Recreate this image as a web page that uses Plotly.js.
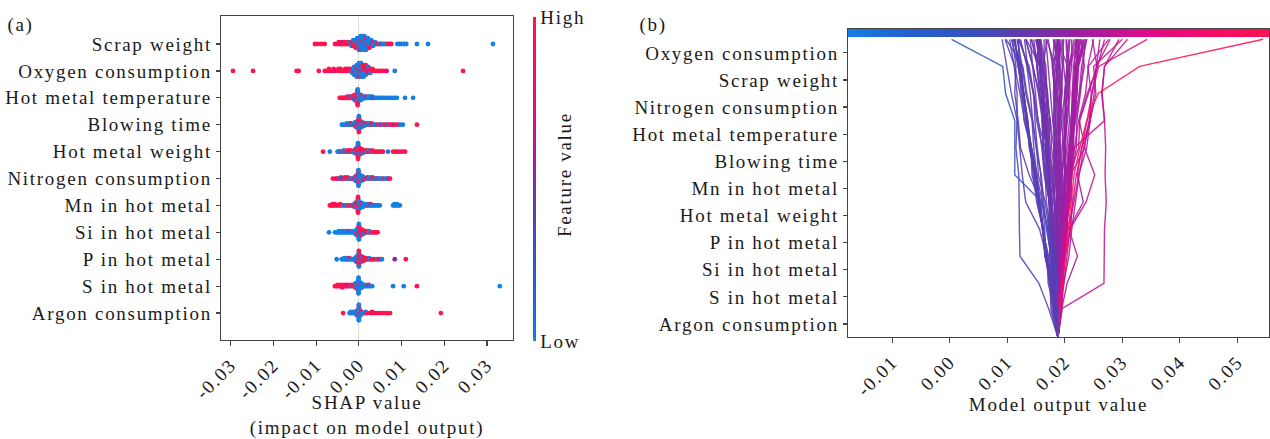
<!DOCTYPE html>
<html><head><meta charset="utf-8">
<script src="https://cdn.plot.ly/plotly-3.0.1.min.js"></script>
<style>
html,body{margin:0;padding:0;background:#fff}
#chart{width:1270px;height:439px}
.main-svg text{letter-spacing:1.7px}
</style>
</head><body><div id="chart"></div>
<script>
// ---------- Panel (a): SHAP summary (beeswarm) ----------
const featuresA = ['Scrap weight','Oxygen consumption','Hot metal temperature','Blowing time','Hot metal weight','Nitrogen consumption','Mn in hot metal','Si in hot metal','P in hot metal','S in hot metal','Argon consumption'];

const shapScrapWeight = [-0.0103,-0.0096,-0.0088,-0.0080,
-0.0056,-0.0051,-0.0047,-0.0047,-0.0043,-0.0040,-0.0040,-0.0036,-0.0033,-0.0033,-0.0030,-0.0027,-0.0025,
-0.0021,-0.0021,
-0.0017,-0.0017,-0.0017,
-0.0013,-0.0013,-0.0013,-0.0013,
-0.0008,-0.0008,-0.0008,-0.0008,-0.0008,
-0.0004,-0.0004,-0.0004,-0.0004,-0.0004,-0.0004,
0.0000,0.0000,0.0000,0.0000,0.0000,0.0000,0.0000,
0.0004,0.0004,0.0004,0.0004,0.0004,0.0004,0.0004,0.0004,
0.0008,0.0008,0.0008,0.0008,0.0008,0.0008,0.0008,0.0008,
0.0013,0.0013,0.0013,0.0013,0.0013,0.0013,0.0013,0.0013,
0.0017,0.0017,0.0017,0.0017,0.0017,0.0017,0.0017,
0.0021,0.0021,0.0021,0.0021,0.0021,0.0021,
0.0025,0.0025,0.0025,0.0025,0.0025,
0.0029,0.0029,0.0029,0.0029,
0.0033,0.0033,0.0033,
0.0038,0.0038,
0.0043,0.0047,0.0051,0.0055,0.0059,0.0064,0.0068,0.0072,0.0076,
0.0090,0.0095,0.0100,0.0106,0.0111,0.0136,0.0162,0.0314];
const valScrapWeight = [1,1,1,1,
1,1,1,1,1,1,0.7,1,1,1,1,1,1,
1,0,
1,1,0,
0,1,1,0,
1,0,1,0,1,
0,1,0,0,1,0,
1,0,0,1,0,0,0,
0,0,1,0,0,0,1,0,
0,0,0,1,0,0,0,0,
0,1,0,0,0,0,0,0,
0,0,0,0,0,1,0,
0,0,1,0,0,0,
0,0,0,0,1,
0,0,1,0,
0,1,0,
0,0,
1,0,1,0,0,0,1,1,1,
0,0,0,0,0,0,0,0];

const shapOxygen = [-0.0295,-0.0248,-0.0146,-0.0141,-0.0094,-0.0080,-0.0075,-0.0070,-0.0070,-0.0064,-0.0059,-0.0059,-0.0054,-0.0048,-0.0048,-0.0043,-0.0043,-0.0038,-0.0032,-0.0032,-0.0027,-0.0027,-0.0022,-0.0022,
-0.0016,-0.0016,-0.0016,
-0.0011,-0.0011,-0.0011,-0.0011,-0.0011,
-0.0005,-0.0005,-0.0005,-0.0005,-0.0005,-0.0005,-0.0005,
0.0000,0.0000,0.0000,0.0000,0.0000,0.0000,0.0000,0.0000,
0.0005,0.0005,0.0005,0.0005,0.0005,0.0005,0.0005,0.0005,
0.0011,0.0011,0.0011,0.0011,0.0011,0.0011,0.0011,
0.0016,0.0016,0.0016,0.0016,0.0016,0.0016,
0.0022,0.0022,0.0022,0.0022,
0.0027,0.0027,0.0027,
0.0032,0.0032,
0.0038,0.0043,0.0049,0.0054,0.0059,0.0065,0.0084,0.0244];
const valOxygen = [1,1,1,1,1,1,1,1,1,1,1,1,0.7,1,1,1,1,1,1,1,1,1,1,1,
0,1,0,
0,0,1,0,0,
0,0,0,1,0,0,0,
0,1,0,0,0,0,1,0,
1,0,1,0,0,1,0,0,
1,1,0,1,0,1,0,
1,1,0,1,0,1,
1,1,1,0,
1,1,0,
1,1,
1,1,1,1,1,0.8,0,1];

const shapHMTemp = [-0.0045,-0.0042,-0.0039,-0.0036,-0.0033,-0.0031,-0.0029,-0.0027,-0.0027,-0.0025,-0.0023,-0.0023,-0.0021,-0.0019,-0.0019,-0.0017,-0.0015,-0.0015,
-0.0012,-0.0012,-0.0012,-0.0012,
-0.0009,-0.0009,-0.0009,-0.0009,-0.0009,
-0.0006,-0.0006,-0.0006,-0.0006,-0.0006,-0.0006,
-0.0003,-0.0003,-0.0003,-0.0003,-0.0003,-0.0003,-0.0003,-0.0003,-0.0003,-0.0003,-0.0003,-0.0003,-0.0003,-0.0003,
0.0000,0.0000,0.0000,0.0000,0.0000,0.0000,
0.0003,0.0003,0.0003,0.0003,0.0003,
0.0006,0.0006,0.0006,0.0006,
0.0009,0.0009,0.0009,
0.0012,0.0014,0.0014,0.0016,0.0018,0.0018,0.0020,0.0022,0.0022,0.0024,0.0026,0.0026,0.0028,0.0031,0.0031,0.0034,0.0037,0.0040,0.0044,0.0048,0.0052,0.0057,0.0062,0.0068,0.0072,0.0078,0.0084,0.0089,0.0108,0.0127];
const valHMTemp = [1,1,1,1,1,1,1,1,1,1,1,0,1,1,1,1,1,0,
1,1,0,1,
1,1,1,0,1,
1,0,1,1,0,1,
1,1,0,1,1,0,1,1,0,1,1,0,1,0,
0,1,0,0,1,0,
0,0,1,0,0,
0,0,0,1,
0,0,0,
0,0,0,0,0,1,1,0,0,0,0,0,0,0,0,0.5,0,0,0,0,0,0,0,0,0,0,0,0,0,0];

const shapBlowing = [-0.0040,-0.0037,-0.0034,-0.0031,-0.0028,-0.0028,-0.0026,-0.0024,-0.0022,-0.0022,-0.0020,-0.0018,-0.0018,-0.0016,-0.0014,-0.0012,
-0.0009,-0.0009,-0.0009,-0.0009,
-0.0006,-0.0006,-0.0006,-0.0006,-0.0006,
-0.0003,-0.0003,-0.0003,-0.0003,-0.0003,-0.0003,
0.0000,0.0000,0.0000,0.0000,0.0000,0.0000,0.0000,0.0000,0.0000,0.0000,0.0000,0.0000,0.0000,0.0000,
0.0003,0.0003,0.0003,0.0003,0.0003,0.0003,
0.0006,0.0006,0.0006,0.0006,0.0006,
0.0009,0.0009,0.0009,0.0009,
0.0012,0.0012,0.0012,
0.0015,0.0018,0.0018,0.0021,0.0024,0.0024,0.0027,0.0030,0.0030,0.0033,0.0036,0.0040,0.0044,0.0048,0.0052,0.0056,0.0060,0.0064,0.0068,0.0072,0.0077,0.0082,0.0087,0.0092,0.0097,0.0103,0.0136];
const valBlowing = [0,0,0,0,0,0,0,1,0,0,0,0,1,0,1,0,
0,0,1,0,
0,1,0,0,1,
1,0,0,1,0,1,
1,0,1,0,1,1,0,1,0,1,0,1,1,0,
1,0,1,0,0,1,
0,1,0,1,0,
0,0,1,0,
0,1,0,
0,0,1,0,1,0,0,0,1,1,0,0,1,0,1,0,1,1,0,1,1,0.6,1,1,0,0,1];

const shapHMWeight = [-0.0084,-0.0068,-0.0050,-0.0047,-0.0044,-0.0041,-0.0038,-0.0035,-0.0035,-0.0032,-0.0029,-0.0026,-0.0026,-0.0023,-0.0020,-0.0020,-0.0017,-0.0014,
-0.0011,-0.0011,-0.0011,
-0.0008,-0.0008,-0.0008,-0.0008,
-0.0005,-0.0005,-0.0005,-0.0005,-0.0005,-0.0005,
-0.0002,-0.0002,-0.0002,-0.0002,-0.0002,-0.0002,-0.0002,-0.0002,-0.0002,-0.0002,-0.0002,-0.0002,-0.0002,-0.0002,
0.0001,0.0001,0.0001,0.0001,0.0001,0.0001,
0.0004,0.0004,0.0004,0.0004,0.0004,
0.0007,0.0007,0.0007,0.0007,
0.0010,0.0010,0.0010,
0.0014,0.0017,0.0017,0.0020,0.0023,0.0023,0.0027,0.0031,0.0031,0.0035,0.0039,0.0043,0.0047,0.0052,0.0056,0.0068,0.0080,0.0085,0.0090,0.0096,0.0102,0.0108];
const valHMWeight = [1,0,0,0,0,1,0,0,0,0,1,0,1,1,0,1,1,0,
0,1,0,
1,0,0,1,
0,1,1,0,1,0,
1,0,1,1,0,1,0,1,1,0,1,0,1,0,
1,0,1,0,1,1,
1,1,0,1,0,
1,0,1,1,
1,1,0,
1,0,1,1,1,0,1,0,1,1,1,1,1,1,1,0,1,1,1,1,1,1];

const shapNitrogen = [-0.0061,-0.0055,-0.0051,-0.0048,-0.0045,-0.0042,-0.0042,-0.0039,-0.0036,-0.0033,-0.0033,-0.0030,-0.0027,-0.0027,-0.0024,-0.0021,-0.0018,-0.0015,
-0.0010,-0.0010,-0.0010,
-0.0007,-0.0007,-0.0007,-0.0007,-0.0007,
-0.0004,-0.0004,-0.0004,-0.0004,-0.0004,-0.0004,
-0.0001,-0.0001,-0.0001,-0.0001,-0.0001,-0.0001,-0.0001,-0.0001,-0.0001,-0.0001,-0.0001,-0.0001,-0.0001,-0.0001,
0.0002,0.0002,0.0002,0.0002,0.0002,0.0002,
0.0005,0.0005,0.0005,0.0005,0.0005,
0.0008,0.0008,0.0008,0.0008,
0.0011,0.0011,0.0011,
0.0014,0.0017,0.0020,0.0020,0.0023,0.0026,0.0026,0.0029,0.0032,0.0032,0.0035,0.0038,0.0041,0.0044,0.0047,0.0050,0.0054,0.0058,0.0062,0.0066,0.0070,0.0073];
const valNitrogen = [1,1,0.7,1,0,1,0,0.5,1,0,1,1,0,1,1,0,1,0,
1,0,1,
0,1,0,1,0,
0,0,1,0,1,0,
0,0,1,0,0,1,0,0,1,0,0,1,0,0,
0,1,0,0,1,0,
0,0,1,0,0,
0,1,0,0,
0,0,1,
0,1,0,1,0,1,0,0,0,1,1,0,0,1,0,0,0,1,0,0,0.5,1];

const shapMn = [-0.0068,-0.0065,-0.0062,-0.0062,-0.0059,-0.0056,-0.0056,-0.0052,-0.0048,-0.0044,-0.0044,-0.0040,-0.0037,-0.0033,-0.0030,-0.0027,-0.0024,-0.0021,-0.0018,-0.0015,
-0.0011,-0.0011,-0.0011,
-0.0008,-0.0008,-0.0008,-0.0008,
-0.0005,-0.0005,-0.0005,-0.0005,-0.0005,-0.0005,
-0.0002,-0.0002,-0.0002,-0.0002,-0.0002,-0.0002,-0.0002,-0.0002,-0.0002,-0.0002,-0.0002,-0.0002,-0.0002,-0.0002,
0.0001,0.0001,0.0001,0.0001,0.0001,0.0001,
0.0004,0.0004,0.0004,0.0004,0.0004,
0.0007,0.0007,0.0007,0.0007,
0.0010,0.0010,0.0010,
0.0013,0.0016,0.0016,0.0019,0.0022,0.0022,0.0025,0.0028,0.0028,0.0031,0.0034,0.0037,0.0040,0.0043,0.0046,0.0049,0.0080,0.0083,0.0083,0.0086,0.0089,0.0089,0.0093,0.0096];
const valMn = [1,1,1,1,1,1,1,1,0.8,1,1,1,0,1,0,1,0,1,0,1,
1,0,1,
1,1,0,1,
1,0,1,1,0,1,
1,1,0,1,1,0,1,1,0,1,1,0,1,1,
0,1,0,1,0,0,
0,0,1,0,0,
0,0,0,1,
0,0,0,
0,0,0,0,1,0,0,0,1,0,0,0,0,0,0,0,0,0,0,0,0,0,0,0];

const shapSi = [-0.0070,-0.0056,-0.0053,-0.0050,-0.0047,-0.0047,-0.0044,-0.0041,-0.0041,-0.0038,-0.0035,-0.0035,-0.0032,-0.0029,-0.0029,-0.0026,-0.0023,-0.0023,-0.0020,-0.0017,-0.0017,-0.0014,
-0.0009,-0.0009,-0.0009,
-0.0006,-0.0006,-0.0006,-0.0006,-0.0006,
-0.0003,-0.0003,-0.0003,-0.0003,-0.0003,-0.0003,
0.0000,0.0000,0.0000,0.0000,0.0000,0.0000,0.0000,0.0000,0.0000,0.0000,0.0000,0.0000,0.0000,0.0000,
0.0003,0.0003,0.0003,0.0003,0.0003,0.0003,
0.0006,0.0006,0.0006,0.0006,0.0006,
0.0009,0.0009,0.0009,0.0009,
0.0012,0.0012,0.0012,
0.0015,0.0018,0.0018,0.0021,0.0024,0.0024,0.0027,0.0030,0.0033,0.0036,0.0040,0.0044];
const valSi = [0,0,0,0,0,0,0,0,0,0,0,0,0,0,0,0,0,1,0,0,0,0,
0,0,0,
0,0,1,0,0,
0,1,0,0,1,0,
0,1,0,0,1,0,1,0,0,1,0,1,0,0,
1,0,1,1,0,1,
1,1,0,1,1,
1,0,1,1,
1,1,0,
1,0,1,1,1,0,0,1,1,1,1,1];

const shapP = [-0.0052,-0.0040,-0.0037,-0.0034,-0.0034,-0.0031,-0.0028,-0.0028,-0.0025,-0.0022,-0.0022,-0.0019,-0.0016,-0.0013,
-0.0009,-0.0009,-0.0009,
-0.0006,-0.0006,-0.0006,-0.0006,-0.0006,
-0.0003,-0.0003,-0.0003,-0.0003,-0.0003,-0.0003,
0.0000,0.0000,0.0000,0.0000,0.0000,0.0000,0.0000,0.0000,0.0000,0.0000,0.0000,0.0000,0.0000,0.0000,
0.0003,0.0003,0.0003,0.0003,0.0003,0.0003,
0.0006,0.0006,0.0006,0.0006,0.0006,
0.0009,0.0009,0.0009,0.0009,
0.0012,0.0012,0.0012,
0.0015,0.0018,0.0018,0.0021,0.0024,0.0024,0.0027,0.0030,0.0034,0.0038,0.0042,0.0046,0.0050,0.0054,0.0084,0.0110];
const valP = [0,0,0,0,0,0,0,0,0,0,1,0,0,0,
0,0,0,
0,0,1,0,0,
0,0,1,0,1,0,
0,1,0,1,0,0,1,0,1,0,1,0,0,1,
1,0,1,0,1,1,
1,1,0,1,0,
1,0,1,0,
0,1,1,
1,0,1,1,1,0,0,1,1,1,0,1,1,0,0.5,1];

const shapS = [-0.0056,-0.0053,-0.0050,-0.0050,-0.0046,-0.0042,-0.0042,-0.0039,-0.0035,-0.0035,-0.0031,-0.0028,-0.0028,-0.0024,-0.0020,-0.0020,-0.0017,-0.0013,-0.0013,
-0.0009,-0.0009,-0.0009,-0.0009,
-0.0005,-0.0005,-0.0005,-0.0005,-0.0005,-0.0005,
-0.0001,-0.0001,-0.0001,-0.0001,-0.0001,-0.0001,-0.0001,-0.0001,-0.0001,-0.0001,-0.0001,-0.0001,-0.0001,-0.0001,
0.0003,0.0003,0.0003,0.0003,0.0003,0.0003,
0.0007,0.0007,0.0007,0.0007,
0.0011,0.0015,0.0015,0.0019,0.0023,0.0023,0.0027,0.0031,0.0080,0.0105,0.0136,0.0330];
const valS = [1,1,1,1,1,1,1,1,1,1,1,1,0.7,1,0,1,1,0,1,
1,0,1,0,
0,1,0,0,1,0,
0,0,0,1,0,0,0,0,1,0,0,0,0,0,
0,0,0,1,0,0,
0,0,0,0,
0,0,0,0,0,1,0,0,0,0,1,0];

const shapArgon = [-0.0037,-0.0022,-0.0019,-0.0019,-0.0016,-0.0013,-0.0013,-0.0010,
-0.0007,-0.0007,-0.0007,
-0.0004,-0.0004,-0.0004,-0.0004,-0.0004,
0.0000,0.0000,0.0000,0.0000,0.0000,0.0000,0.0000,0.0000,0.0000,0.0000,0.0000,0.0000,0.0000,0.0000,
0.0003,0.0003,0.0003,0.0003,0.0003,
0.0006,0.0006,0.0006,
0.0012,0.0016,0.0016,0.0020,0.0027,0.0031,0.0031,0.0037,0.0042,0.0046,0.0053,0.0059,0.0066,0.0073,0.0192];
const valArgon = [1,0,0,0,0,0,0,0,
0,0,0,
0,0,0,1,0,
0,0,1,0,0,0,1,0,0,0,0,1,0,0,
0,0,1,0,0,
0,1,0,
0,1,0,1,1,1,0.8,1,1,1,1,1,1,1,1];

const shapTickVals = [-0.03,-0.02,-0.01,0,0.01,0.02,0.03];
const shapTickText = ['-0.03','-0.02','-0.01','0.00','0.01','0.02','0.03'];

// ---------- Panel (b): decision plot (SHAP value of each feature, one entry per plotted sample) ----------
const featuresB = ['Argon consumption','S in hot metal','Si in hot metal','P in hot metal','Hot metal weight','Mn in hot metal','Blowing time','Hot metal temperature','Nitrogen consumption','Scrap weight','Oxygen consumption'];
const baseValue = 0.0188;
const decArgon = [0.0000,0.0003,0.0002,-0.0015,-0.0008,-0.0003,-0.0006,0.0004,0.0002,0.0001,
0.0003,0.0005,0.0002,0.0004,0.0001,0.0006,0.0001,-0.0003,0.0005,-0.0001,
0.0002,-0.0005,0.0003,0.0000,-0.0002,0.0004,-0.0004,0.0001,-0.0001,0.0002,
-0.0006,0.0003,0.0000,-0.0002,0.0006,-0.0003,0.0002,-0.0001,0.0004,-0.0004,
0.0001,-0.0002,0.0003,-0.0005,0.0002,0.0000,-0.0003,0.0005,-0.0001,0.0001,
-0.0007,0.0002,-0.0002,0.0003,-0.0004,0.0001,-0.0001,0.0000,0.0004,-0.0002,
-0.0008,-0.0004,-0.0010,-0.0002,-0.0006,-0.0012,-0.0003,-0.0007,-0.0005,
-0.0003,-0.0001,-0.0005,-0.0002,0.0001,-0.0004,-0.0002,-0.0006,0.0000,
0.0002,-0.0003,0.0004,-0.0001,0.0003,-0.0004,0.0001,0.0005,-0.0002,
0.0004,0.0001,0.0006,0.0002,0.0003,0.0007,0.0000,0.0005,0.0002];
const decS = [-0.0002,0.0005,0.0078,-0.0018,-0.0005,-0.0010,-0.0002,0.0003,0.0005,0.0004,
0.0002,0.0006,0.0008,0.0004,0.0001,0.0010,-0.0002,0.0002,0.0003,-0.0004,
0.0001,-0.0002,0.0005,-0.0003,0.0004,-0.0001,-0.0006,0.0003,0.0001,-0.0005,
-0.0003,0.0002,0.0002,-0.0005,0.0001,0.0003,-0.0001,-0.0002,0.0004,-0.0001,
0.0004,0.0000,-0.0003,-0.0004,0.0006,0.0001,-0.0002,0.0002,-0.0003,0.0000,
-0.0004,0.0003,0.0001,0.0001,-0.0002,-0.0001,0.0002,-0.0006,0.0003,-0.0003,
-0.0005,-0.0011,-0.0003,-0.0008,-0.0006,-0.0002,-0.0009,-0.0004,-0.0012,
-0.0002,-0.0004,0.0001,-0.0006,-0.0003,0.0000,-0.0005,0.0002,-0.0004,
-0.0004,0.0003,-0.0001,0.0005,-0.0003,0.0002,-0.0006,0.0001,0.0004,
0.0002,0.0005,0.0001,0.0004,0.0006,0.0000,0.0003,0.0002,0.0007];
const decSi = [-0.0006,0.0005,0.0000,-0.0033,-0.0007,-0.0005,-0.0015,0.0006,0.0002,0.0003,
0.0005,0.0004,0.0009,0.0002,0.0004,0.0018,0.0003,-0.0005,0.0002,-0.0003,
-0.0002,-0.0006,0.0004,0.0001,0.0002,-0.0004,-0.0002,0.0005,-0.0002,0.0003,
-0.0005,-0.0001,0.0003,-0.0004,0.0002,-0.0003,0.0006,-0.0001,-0.0003,-0.0007,
0.0002,0.0004,-0.0002,0.0001,0.0003,-0.0004,0.0002,0.0001,-0.0006,0.0002,
-0.0003,-0.0001,0.0001,0.0002,-0.0003,0.0005,-0.0002,-0.0002,0.0004,-0.0001,
-0.0007,-0.0003,-0.0009,-0.0012,-0.0004,-0.0008,-0.0006,-0.0010,-0.0002,
-0.0004,0.0002,-0.0003,-0.0001,-0.0006,-0.0002,0.0001,-0.0005,-0.0003,
0.0003,-0.0002,0.0006,-0.0004,0.0001,-0.0003,0.0004,-0.0005,0.0002,
0.0003,0.0000,0.0005,0.0006,0.0001,0.0004,0.0007,0.0002,0.0003];
const decP = [-0.0010,0.0004,0.0001,-0.0001,-0.0012,-0.0008,-0.0003,0.0008,0.0003,0.0009,
0.0002,0.0006,0.0005,0.0012,0.0003,-0.0015,-0.0004,0.0001,0.0006,-0.0002,
0.0003,-0.0004,0.0002,-0.0006,0.0001,0.0003,-0.0008,0.0003,-0.0001,-0.0003,
0.0002,0.0005,-0.0005,-0.0003,0.0004,-0.0002,0.0002,-0.0004,0.0002,-0.0006,
0.0006,-0.0003,0.0001,-0.0002,0.0003,0.0002,-0.0005,-0.0002,-0.0001,0.0004,
-0.0002,-0.0002,-0.0004,0.0001,-0.0006,0.0001,0.0003,-0.0003,-0.0001,-0.0002,
-0.0006,-0.0009,-0.0004,-0.0003,-0.0011,-0.0005,-0.0008,-0.0002,-0.0007,
0.0001,-0.0005,-0.0002,-0.0004,-0.0001,-0.0006,-0.0003,-0.0002,-0.0005,
-0.0005,0.0004,-0.0002,0.0002,-0.0006,0.0005,-0.0001,0.0003,-0.0003,
0.0005,0.0003,0.0002,0.0000,0.0006,0.0001,0.0004,0.0007,0.0002];
const decHMWeight = [-0.0010,0.0006,0.0003,-0.0001,-0.0024,-0.0004,-0.0006,0.0005,0.0009,0.0011,
0.0004,0.0028,0.0006,0.0003,0.0005,0.0025,0.0002,-0.0006,-0.0002,-0.0005,
0.0004,0.0002,0.0007,-0.0002,-0.0003,-0.0008,-0.0005,0.0005,0.0003,-0.0004,
-0.0003,0.0002,0.0004,-0.0006,-0.0001,0.0005,0.0003,-0.0002,-0.0002,-0.0009,
0.0001,-0.0001,-0.0004,-0.0003,0.0006,0.0001,0.0003,0.0004,-0.0004,-0.0003,
-0.0006,0.0005,-0.0002,0.0002,0.0001,0.0003,-0.0005,-0.0003,0.0002,-0.0004,
-0.0010,-0.0005,-0.0007,-0.0009,-0.0003,-0.0006,-0.0011,-0.0004,-0.0008,
-0.0005,-0.0003,-0.0006,0.0002,-0.0004,-0.0001,-0.0007,-0.0003,0.0001,
0.0004,-0.0005,0.0002,-0.0003,0.0006,-0.0001,-0.0004,0.0003,0.0001,
0.0001,0.0006,0.0004,0.0003,-0.0001,0.0005,0.0002,0.0000,0.0006];
const decMn = [-0.0047,0.0005,-0.0002,0.0000,-0.0006,-0.0020,-0.0005,0.0006,0.0004,0.0008,
0.0006,0.0015,0.0007,-0.0004,0.0009,-0.0010,-0.0005,0.0003,0.0005,-0.0009,
-0.0001,-0.0007,0.0003,-0.0004,0.0005,-0.0003,-0.0004,0.0006,-0.0002,0.0002,
-0.0006,0.0004,-0.0002,-0.0002,0.0003,-0.0005,0.0001,-0.0005,0.0006,-0.0003,
-0.0003,0.0002,-0.0006,-0.0001,0.0004,-0.0004,-0.0008,0.0003,0.0002,0.0001,
-0.0012,0.0005,-0.0003,-0.0002,-0.0004,0.0004,0.0001,-0.0005,0.0002,-0.0006,
-0.0004,-0.0008,-0.0012,-0.0005,-0.0009,-0.0003,-0.0006,-0.0010,-0.0007,
-0.0002,-0.0006,0.0000,-0.0003,-0.0005,-0.0004,0.0002,-0.0001,-0.0006,
-0.0003,0.0006,-0.0005,0.0001,-0.0002,0.0004,0.0002,-0.0006,0.0005,
0.0004,0.0002,0.0000,0.0007,0.0003,0.0001,0.0005,0.0004,0.0001];
const decBlowing = [0.0000,0.0010,0.0001,-0.0005,-0.0004,-0.0015,-0.0009,0.0010,0.0003,0.0014,
0.0025,-0.0018,0.0008,0.0015,0.0006,0.0007,0.0004,-0.0008,0.0003,-0.0004,
0.0006,-0.0005,-0.0002,-0.0011,0.0003,0.0002,-0.0009,0.0004,-0.0003,-0.0006,
0.0001,0.0006,0.0002,-0.0005,0.0005,-0.0002,-0.0004,-0.0003,0.0002,-0.0006,
0.0004,-0.0005,-0.0002,-0.0007,0.0008,0.0003,-0.0004,-0.0001,-0.0002,0.0002,
-0.0003,0.0001,0.0004,0.0005,-0.0002,-0.0003,-0.0001,-0.0006,0.0004,-0.0004,
-0.0009,-0.0006,-0.0002,-0.0011,-0.0007,-0.0010,-0.0004,-0.0005,-0.0008,
-0.0006,0.0000,-0.0004,-0.0005,-0.0002,-0.0003,-0.0006,-0.0004,-0.0001,
0.0005,-0.0004,0.0001,-0.0006,0.0004,-0.0002,0.0003,0.0002,-0.0005,
0.0002,0.0004,0.0007,0.0001,0.0005,0.0003,0.0000,0.0006,0.0004];
const decHMTemp = [0.0000,0.0012,-0.0002,0.0002,-0.0005,-0.0004,-0.0012,0.0008,0.0053,0.0006,
-0.0010,0.0008,0.0011,0.0002,0.0007,0.0015,-0.0003,0.0002,0.0007,-0.0006,
0.0002,-0.0010,0.0009,-0.0003,-0.0004,-0.0007,-0.0006,0.0002,0.0005,-0.0002,
-0.0005,0.0003,-0.0004,0.0003,0.0004,0.0002,0.0006,-0.0008,-0.0001,-0.0004,
0.0005,-0.0003,-0.0005,-0.0002,0.0001,-0.0006,0.0001,0.0004,-0.0005,0.0003,
-0.0007,-0.0002,-0.0004,0.0003,-0.0006,0.0002,0.0004,-0.0002,0.0006,-0.0013,
-0.0003,-0.0010,-0.0006,-0.0004,-0.0008,-0.0007,-0.0012,-0.0003,-0.0005,
-0.0003,-0.0005,-0.0002,0.0001,-0.0006,-0.0004,-0.0002,-0.0007,-0.0003,
-0.0002,0.0005,-0.0006,0.0003,-0.0001,0.0006,-0.0004,0.0000,0.0002,
0.0006,0.0001,0.0003,0.0005,0.0002,0.0006,0.0004,0.0001,0.0003];
const decNitrogen = [-0.0016,0.0020,-0.0005,-0.0010,0.0000,-0.0006,-0.0008,0.0009,-0.0004,0.0010,
0.0014,0.0005,0.0007,0.0015,0.0012,0.0002,0.0002,-0.0004,0.0004,-0.0008,
-0.0003,-0.0006,0.0006,0.0002,0.0006,-0.0005,-0.0010,0.0009,-0.0004,-0.0009,
-0.0007,0.0003,0.0005,-0.0008,0.0002,-0.0003,0.0004,-0.0005,0.0003,-0.0002,
-0.0002,0.0003,-0.0006,-0.0004,0.0006,0.0001,-0.0011,0.0005,0.0002,0.0002,
-0.0004,0.0006,-0.0005,-0.0001,-0.0003,0.0004,-0.0002,-0.0007,0.0001,-0.0004,
-0.0008,-0.0004,-0.0007,-0.0010,-0.0005,-0.0006,-0.0003,-0.0011,-0.0006,
-0.0004,-0.0003,-0.0006,-0.0002,0.0000,-0.0005,-0.0004,-0.0001,-0.0006,
0.0003,-0.0006,0.0004,-0.0002,0.0005,-0.0003,-0.0001,0.0004,-0.0004,
0.0003,0.0005,0.0001,0.0004,0.0000,0.0006,0.0003,0.0002,0.0005];
const decScrap = [-0.0005,0.0072,0.0005,-0.0008,-0.0005,0.0002,-0.0009,0.0012,0.0004,-0.0004,
0.0018,0.0008,0.0004,0.0015,0.0005,-0.0006,-0.0006,-0.0009,0.0002,-0.0011,
0.0005,-0.0009,0.0004,-0.0005,0.0003,-0.0002,-0.0007,0.0008,0.0002,-0.0004,
-0.0004,0.0007,-0.0003,-0.0012,0.0003,0.0004,0.0001,-0.0006,-0.0005,-0.0008,
0.0006,-0.0002,0.0002,-0.0003,0.0005,-0.0003,-0.0005,-0.0002,-0.0006,0.0004,
-0.0006,0.0004,-0.0004,0.0006,-0.0007,0.0001,-0.0003,-0.0009,0.0002,-0.0005,
-0.0006,-0.0009,-0.0005,-0.0004,-0.0010,-0.0008,-0.0007,-0.0006,-0.0003,
-0.0005,-0.0002,-0.0004,-0.0006,-0.0003,0.0001,-0.0005,-0.0002,-0.0004,
-0.0004,0.0002,0.0005,-0.0005,0.0001,-0.0002,0.0006,-0.0003,0.0003,
0.0005,0.0002,0.0004,0.0001,0.0006,0.0003,0.0005,0.0002,0.0000];
const decOxygen = [-0.0089,0.0215,0.0025,-0.0008,-0.0008,-0.0006,-0.0017,0.0084,0.0040,0.0050,
0.0012,0.0024,0.0006,-0.0008,0.0035,0.0010,0.0008,-0.0012,0.0015,-0.0005,
-0.0018,-0.0015,0.0009,-0.0024,0.0004,-0.0009,-0.0029,-0.0006,0.0002,0.0007,
-0.0010,0.0005,-0.0009,-0.0004,0.0021,-0.0016,0.0011,0.0003,-0.0002,-0.0019,
0.0000,0.0006,-0.0011,-0.0007,0.0004,-0.0008,-0.0014,0.0009,0.0000,-0.0002,
-0.0011,0.0014,-0.0003,-0.0005,-0.0006,0.0004,-0.0001,-0.0013,0.0006,-0.0012,
-0.0010,-0.0006,-0.0004,-0.0008,-0.0012,-0.0002,-0.0005,-0.0009,-0.0015,
-0.0004,-0.0008,-0.0001,-0.0005,-0.0007,-0.0002,0.0000,-0.0006,-0.0003,
0.0006,-0.0008,0.0002,0.0004,-0.0006,-0.0001,0.0008,-0.0003,-0.0005,
0.0008,0.0003,0.0012,-0.0002,0.0006,0.0010,0.0004,0.0009,0.0001];
const outputTickVals = [-0.01,0,0.01,0.02,0.03,0.04,0.05];
const outputTickText = ['-0.01','0.00','0.01','0.02','0.03','0.04','0.05'];

// ---------- styling ----------
const scaleStops = [0,0.12,0.3,0.45,0.55,0.7,0.85,1];
const scaleRGB = [[20,128,228],[30,100,210],[55,80,192],[112,50,172],[160,30,162],[218,12,140],[245,10,108],[255,20,80]];
const colorscale = scaleStops.map((s,i)=>[s,'rgb('+scaleRGB[i].join(',')+')']);
function colorAt(t){
  t = Math.max(0, Math.min(1, t));
  for (let k=1;k<scaleStops.length;k++){
    if (t <= scaleStops[k]){
      const f=(t-scaleStops[k-1])/(scaleStops[k]-scaleStops[k-1]);
      const a=scaleRGB[k-1], b=scaleRGB[k];
      return 'rgb('+a.map((v,j)=>Math.round(v+(b[j]-v)*f)).join(',')+')';
    }
  }
  return 'rgb('+scaleRGB[scaleRGB.length-1].join(',')+')';
}
const FONT = 'Liberation Serif, Times New Roman, serif';
const TXT = '#1a1a1a';
const AX = '#444';

// beeswarm vertical layout (as in SHAP's summary plot)
function beeswarmOffsets(xs){
  const nbins=100, mn=Math.min(...xs), mx=Math.max(...xs);
  const quant = xs.map(x=>Math.round(nbins*(x-mn)/(mx-mn+1e-8)));
  const inds = xs.map((_,i)=>i).sort((a,b)=>quant[a]-quant[b] || a-b);
  const ys = new Array(xs.length).fill(0);
  let layer=0, last=-1;
  for (const i of inds){
    if (quant[i]!==last) layer=0;
    ys[i] = Math.ceil(layer/2)*((layer%2)*2-1);
    layer++; last=quant[i];
  }
  const m = Math.max(...ys.map(v=>v+1));
  return ys.map(v=>v*0.9*(0.4/m));
}

const rowsShap = [shapScrapWeight,shapOxygen,shapHMTemp,shapBlowing,shapHMWeight,shapNitrogen,shapMn,shapSi,shapP,shapS,shapArgon];
const rowsVal = [valScrapWeight,valOxygen,valHMTemp,valBlowing,valHMWeight,valNitrogen,valMn,valSi,valP,valS,valArgon];

const traces = [];
rowsShap.forEach((xs,i)=>{
  const pos = featuresA.length-1-i;
  const off = beeswarmOffsets(xs);
  const tr = {
    type:'scatter', mode:'markers', x: xs, y: off.map(o=>pos+o),
    xaxis:'x', yaxis:'y', hoverinfo:'skip', showlegend:false,
    marker:{size:4.8, color: rowsVal[i], colorscale, cmin:0, cmax:1, line:{width:0}, showscale: i===0}
  };
  if (i===0){
    tr.marker.colorbar = {x:533/1270, xanchor:'left', xpad:0, y:1-179/439, yanchor:'middle', ypad:0,
      len:324/439, lenmode:'fraction', thickness:3, thicknessmode:'pixels', outlinewidth:0,
      tickvals:[0,1], ticktext:['Low','High'], ticks:'', tickfont:{family:FONT,size:19,color:TXT}};
  }
  traces.push(tr);
});

// decision lines: cumulative sum of SHAP values from the base value
const decRows = [decArgon,decS,decSi,decP,decHMWeight,decMn,decBlowing,decHMTemp,decNitrogen,decScrap,decOxygen];
const xMinB = -0.0177, xMaxB = 0.0555;
const nLines = Math.min(...decRows.map(r=>r.length));
for (let i=nLines-1;i>=0;i--){
  const xs=[baseValue]; let c=baseValue;
  decRows.forEach(r=>{ c+=r[i]; xs.push(c); });
  const ys = xs.map((_,k)=>k-0.5);
  traces.push({type:'scatter', mode:'lines', x:xs, y:ys, xaxis:'x2', yaxis:'y2', hoverinfo:'skip', showlegend:false,
    line:{color: colorAt((c-xMinB)/(xMaxB-xMinB)), width:1.4}, opacity:0.88});
}
// horizontal colour bar of panel (b)
traces.push({type:'scatter', mode:'markers', x:[baseValue], y:[-0.5], xaxis:'x2', yaxis:'y2', hoverinfo:'skip', showlegend:false,
  marker:{size:1, opacity:0, color:[baseValue], colorscale, cmin:xMinB, cmax:xMaxB, showscale:true,
    colorbar:{orientation:'h', x:(848+1269)/2/1270, xanchor:'center', xpad:0, y:1-29/439, yanchor:'top', ypad:0,
      len:421/1270, lenmode:'fraction', thickness:8, thicknessmode:'pixels', outlinewidth:0, showticklabels:false, ticks:''}}});

const tickFont = {family:FONT, size:19, color:TXT};
const layout = {
  width:1270, height:439, margin:{l:0,r:0,t:0,b:0}, paper_bgcolor:'#fff', plot_bgcolor:'#fff',
  font:{family:FONT, size:19, color:TXT},
  xaxis:{domain:[221/1270, 513/1270], range:[-0.0323, 0.0361], tickvals:shapTickVals, ticktext:shapTickText, tickangle:-45,
    ticks:'outside', ticklen:5, tickwidth:1.2, tickcolor:AX, showline:true, linecolor:AX, linewidth:1.3, mirror:true,
    showgrid:false, zeroline:true, zerolinecolor:'#dcdcdc', zerolinewidth:1, tickfont:tickFont, anchor:'y',
    title:{text:'SHAP value<br>(impact on model output)', font:{family:FONT,size:19,color:TXT}, standoff:8}},
  yaxis:{domain:[1-340/439, 1-16/439], range:[-1.0, 11.04], tickvals:featuresA.map((_,i)=>featuresA.length-1-i), ticktext:featuresA,
    ticks:'outside', ticklen:4, tickwidth:1.2, tickcolor:AX, showline:true, linecolor:AX, linewidth:1.3, mirror:true,
    showgrid:false, zeroline:false, tickfont:tickFont, anchor:'x'},
  xaxis2:{domain:[848/1270, 1269/1270], range:[xMinB, xMaxB], tickvals:outputTickVals, ticktext:outputTickText, tickangle:-45,
    ticks:'outside', ticklen:5, tickwidth:1.2, tickcolor:AX, showline:true, linecolor:AX, linewidth:1.3, mirror:true,
    showgrid:false, zeroline:false, tickfont:tickFont, anchor:'y2',
    title:{text:'Model output value', font:{family:FONT,size:19,color:TXT}, standoff:4}},
  yaxis2:{domain:[1-337/439, 1-29/439], range:[-0.48, 10.88], tickvals:featuresB.map((_,i)=>i), ticktext:featuresB,
    ticks:'outside', ticklen:4, tickwidth:1.2, tickcolor:AX, showline:true, linecolor:AX, linewidth:1.3, mirror:true,
    showgrid:false, zeroline:false, tickfont:tickFont, anchor:'x2'},
  annotations:[
    {text:'(a)', xref:'paper', yref:'paper', x:8/1270, y:1-25/439, xanchor:'left', yanchor:'middle', showarrow:false, font:{family:FONT,size:19,color:TXT}},
    {text:'(b)', xref:'paper', yref:'paper', x:640/1270, y:1-25/439, xanchor:'left', yanchor:'middle', showarrow:false, font:{family:FONT,size:19,color:TXT}},
    {text:'Feature value', xref:'paper', yref:'paper', x:565/1270, y:1-175/439, xanchor:'center', yanchor:'middle', textangle:-90, showarrow:false, font:{family:FONT,size:19,color:TXT}}
  ]
};
Plotly.newPlot('chart', traces, layout, {staticPlot:true, displayModeBar:false});
</script>
</body></html>
